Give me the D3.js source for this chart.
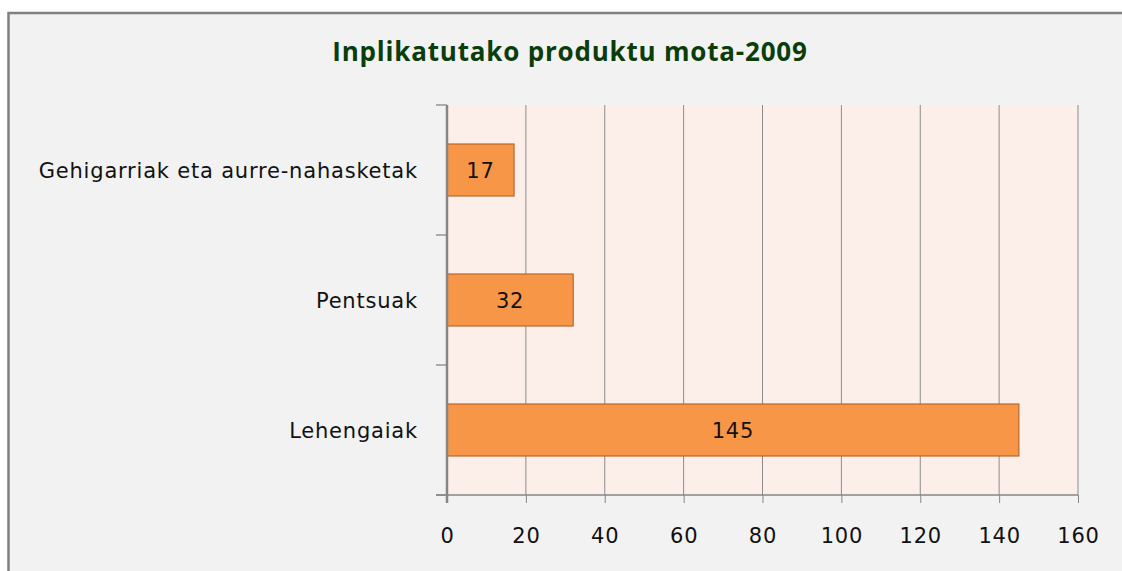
<!DOCTYPE html>
<html>
<head>
<meta charset="utf-8">
<script src="https://cdn.jsdelivr.net/npm/d3@7"></script>
<style>
  body { margin: 0; background: #fff; }
  svg text { font-family: "DejaVu Sans", sans-serif; }
</style>
</head>
<body>
<div id="grafico"></div>
<script>
const width = 1122
const height = 571

const titulua = 'Inplikatutako produktu mota-2009'
const kategoriak = ['Gehigarriak eta aurre-nahasketak', 'Pentsuak', 'Lehengaiak']
const balioak = [17, 32, 145]
const xTicks = [0, 20, 40, 60, 80, 100, 120, 140, 160]

const datuak = kategoriak.map((k, i) => ({ izena: k, balioa: balioak[i] }))

const margin = { top: 105, right: 44, bottom: 76, left: 447 }
const pw = width - margin.left - margin.right
const ph = height - margin.top - margin.bottom

const svg = d3.select('#grafico').append('svg')
              .attr('width', width)
              .attr('height', height)

// chart area
svg.append('rect')
   .attr('x', 8.5).attr('y', 13)
   .attr('width', width + 20).attr('height', height + 20)
   .attr('fill', '#f2f2f2')
   .attr('stroke', '#808080')
   .attr('stroke-width', 2.5)

svg.append('text')
   .attr('x', 570).attr('y', 61)
   .attr('text-anchor', 'middle')
   .style('font-family', '"Open Sans", sans-serif')
   .style('font-size', '26px')
   .style('font-weight', 'bold')
   .style('letter-spacing', '0.8px')
   .attr('fill', '#0b3d0b')
   .text(titulua)

const x = d3.scaleLinear().domain([0, 160]).range([0, pw])
const y = d3.scaleBand().domain(kategoriak).range([0, ph]).paddingInner(0.6).paddingOuter(0.3)

const g = svg.append('g').attr('transform', `translate(${margin.left},${margin.top})`)

g.append('rect')
 .attr('width', pw).attr('height', ph)
 .attr('fill', '#fcefea')

// grid
g.selectAll('.grid')
 .data(xTicks.slice(1))
 .enter().append('line')
 .attr('x1', d => x(d)).attr('x2', d => x(d))
 .attr('y1', 0).attr('y2', ph)
 .attr('stroke', '#8c8c8c').attr('stroke-width', 1)

// bars
g.selectAll('.bar')
 .data(datuak)
 .enter().append('rect')
 .attr('x', 0)
 .attr('y', d => y(d.izena))
 .attr('width', d => x(d.balioa))
 .attr('height', y.bandwidth())
 .attr('fill', '#f79646')
 .attr('stroke', '#b8682c')
 .attr('stroke-width', 1.2)

g.selectAll('.lbl')
 .data(datuak)
 .enter().append('text')
 .attr('x', d => x(d.balioa) / 2)
 .attr('y', d => y(d.izena) + y.bandwidth() / 2)
 .attr('dy', '0.36em')
 .attr('text-anchor', 'middle')
 .style('font-size', '21px')
 .style('letter-spacing', '0.8px')
 .attr('fill', '#111')
 .text(d => d.balioa)

// x axis
const xAxis = g.append('g')
 .attr('transform', `translate(0,${ph})`)
 .call(d3.axisBottom(x).tickValues(xTicks).tickSize(8).tickPadding(25).tickSizeOuter(0))
xAxis.select('.domain').remove()
xAxis.append('line').attr('x1', -11).attr('x2', pw).attr('stroke', '#868686').attr('stroke-width', 1.3)
xAxis.selectAll('line').attr('stroke', '#868686')
xAxis.selectAll('text')
 .style('font-size', '21px')
 .style('letter-spacing', '0.8px')
 .attr('fill', '#111')
 .style('font-family', '"DejaVu Sans", sans-serif')

// y axis: ticks at band edges
const bandStep = ph / kategoriak.length
const yEdges = d3.range(kategoriak.length + 1).map(i => i * bandStep)
g.selectAll('.ytick')
 .data(yEdges)
 .enter().append('line')
 .attr('x1', -11).attr('x2', 0)
 .attr('y1', d => d).attr('y2', d => d)
 .attr('stroke', '#868686').attr('stroke-width', 1.3)
g.append('line')
 .attr('x1', 0).attr('x2', 0).attr('y1', 0).attr('y2', ph + 8)
 .attr('stroke', '#868686').attr('stroke-width', 2.5)

g.selectAll('.ylbl')
 .data(kategoriak)
 .enter().append('text')
 .attr('x', -29)
 .attr('y', d => y(d) + y.bandwidth() / 2)
 .attr('dy', '0.36em')
 .attr('text-anchor', 'end')
 .style('font-size', '21px')
 .style('letter-spacing', '0.8px')
 .attr('fill', '#111')
 .text(d => d)
</script>
</body>
</html>
